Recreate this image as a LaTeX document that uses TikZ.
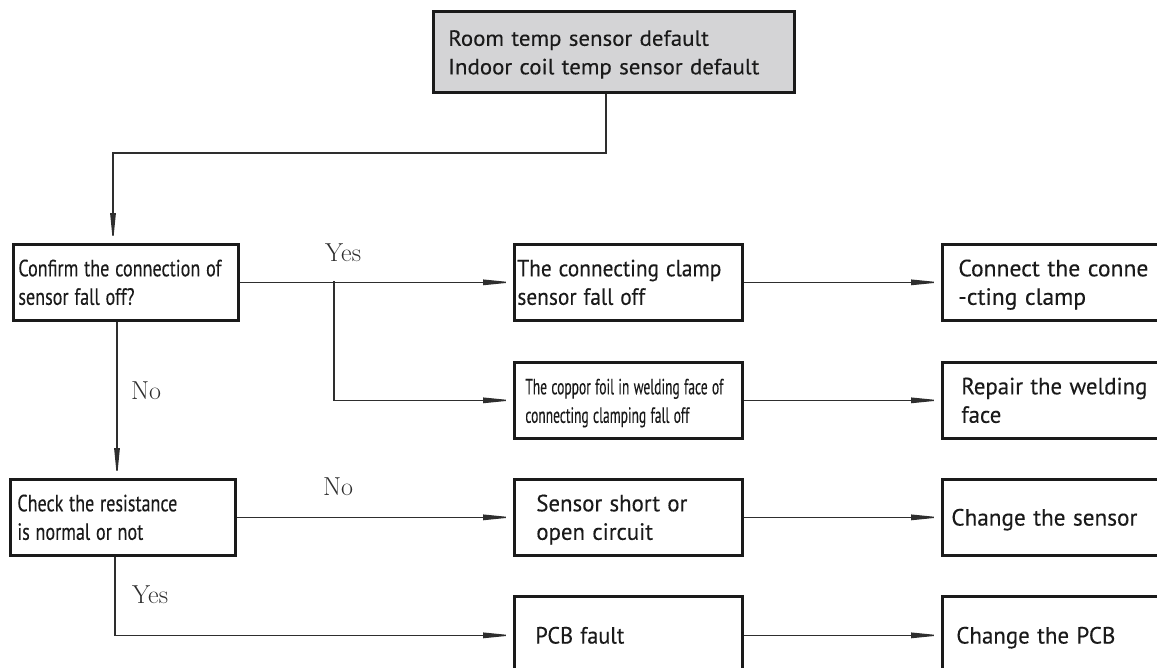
\documentclass[tikz,border=0pt]{standalone}
\usepackage{fontspec}
\usepackage{graphicx}
\usetikzlibrary{arrows.meta}
\newfontfamily\boxfont[FakeBold=0.25]{PT Sans}
\definecolor{ink}{HTML}{1A1A1A}
\definecolor{lineink}{HTML}{2E2E2E}
\definecolor{topfill}{HTML}{D4D4D6}
\newcommand\bt[3]{\raisebox{-2.5pt}[\height][\depth]{\resizebox*{#2}{\totalheight}{\fontsize{#1}{28.5}\selectfont\spaceskip=0.32em plus 0.1em\relax\begin{tabular}{@{}l@{}}#3\end{tabular}}}}
\begin{document}
\begin{tikzpicture}[x=1pt,y=-1pt,
  box/.style={draw=ink, line width=2.7pt, rectangle, anchor=north west, align=left,
    inner ysep=0pt, text=ink, font=\boxfont},
  conn/.style={draw=lineink, line width=1.3pt},
  arr/.style={conn, -{Triangle[length=30pt,width=5.5pt]}},
  lbl/.style={anchor=base west, inner sep=0pt, font=\fontsize{26}{30}\selectfont, text=lineink}]
\useasboundingbox (0,0) rectangle (1157,667);
\clip (0,0) rectangle (1157,667);
% boxes
\node[box, fill=topfill, minimum width=361pt, minimum height=81pt, inner xsep=15pt, text width=331pt] (top) at (432,10)
  {\bt{22}{311pt}{Room temp sensor default\\Indoor coil temp sensor default}};
\node[box, minimum width=225pt, minimum height=76pt, inner xsep=5pt, text width=215pt] (confirm) at (12,243)
  {\bt{23.5}{203pt}{Confirm the connection of\\sensor fall off?}};
\node[box, minimum width=228pt, minimum height=76pt, inner xsep=3pt, text width=222pt] (clamp) at (513,243)
  {\bt{23.5}{204pt}{The connecting clamp\\sensor fall off}};
\node[box, minimum width=228pt, minimum height=76pt, inner xsep=11pt, text width=206pt] (coppor) at (513,361)
  {\bt{22}{198pt}{The coppor foil in welding face of\\connecting clamping fall off}};
\node[box, minimum width=234pt, minimum height=76pt, inner xsep=16pt, text width=202pt] (connect) at (941,243)
  {\bt{23.5}{190pt}{Connect the conne\\-cting clamp}};
\node[box, minimum width=234pt, minimum height=76pt, inner xsep=19pt, text width=196pt] (repair) at (941,361)
  {\bt{23.5}{186pt}{Repair the welding\\face}};
\node[box, minimum width=225pt, minimum height=76pt, inner xsep=7pt, text width=211pt] (check) at (9,478)
  {\bt{23.5}{160pt}{Check the resistance\\is normal or not}};
\node[box, minimum width=228pt, minimum height=76pt, inner xsep=22pt, text width=184pt] (sensor) at (513,478)
  {\bt{23.5}{151pt}{Sensor short or\\open circuit}};
\node[box, minimum width=234pt, minimum height=76pt, inner xsep=9pt, text width=216pt] (csensor) at (941,478)
  {\bt{23.5}{186pt}{Change the sensor}};
\node[box, minimum width=228pt, minimum height=78pt, inner xsep=21pt, text width=186pt] (pcb) at (513,595)
  {\bt{23.5}{89pt}{PCB fault}};
\node[box, minimum width=234pt, minimum height=78pt, inner xsep=14pt, text width=206pt] (cpcb) at (941,595)
  {\bt{23.5}{159pt}{Change the PCB}};
% junction coordinates
\coordinate (j1) at (606,153);
\coordinate (j2) at (113,153);
\coordinate (j3) at (334,281);
\coordinate (nx) at (117,0);
\coordinate (yx) at (115,0);
% connectors
\draw[arr] (top.south -| j1) -- (j1) -- (j2) -- (j2 |- confirm.north);
\draw[arr] (confirm.east) -- (clamp.west);
\draw[arr] (j3) |- (coppor.west);
\draw[arr] (clamp.east) -- (connect.west);
\draw[arr] (coppor.east) -- (repair.west);
\draw[arr] (confirm.south -| nx) -- (check.north -| nx);
\draw[arr] (check.east) -- (sensor.west);
\draw[arr] (check.south -| yx) |- (pcb.west);
\draw[arr] (sensor.east) -- (csensor.west);
\draw[arr] (pcb.east) -- (cpcb.west);
% labels
\node[lbl] (l1) at (325,261) {Yes};
\node[lbl] (l2) at (131,399) {No};
\node[lbl] (l3) at (323,495) {No};
\node[lbl] (l4) at (132,603) {Yes};
\end{tikzpicture}
\end{document}
